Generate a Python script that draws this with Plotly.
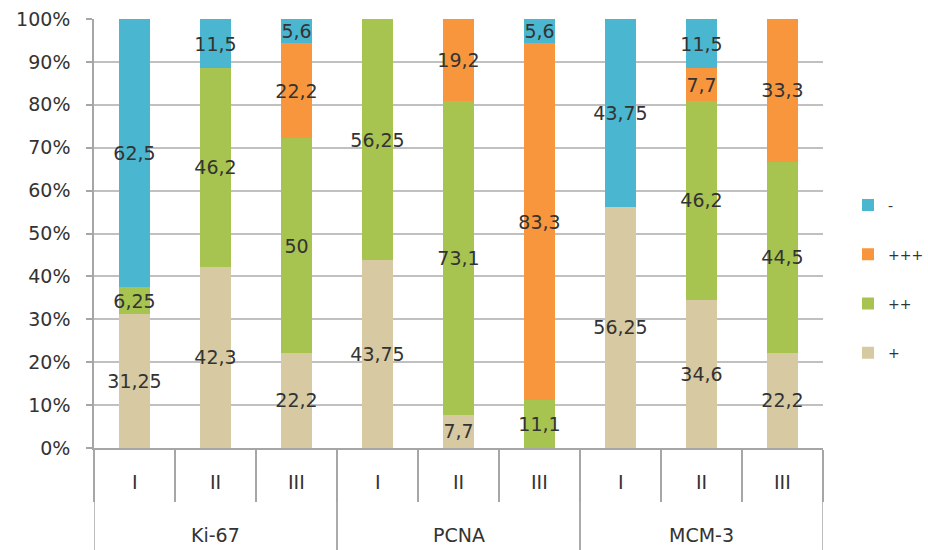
import plotly.graph_objects as go

groups = ["Ki-67"] * 3 + ["PCNA"] * 3 + ["MCM-3"] * 3
grades = ["I", "II", "III"] * 3

plus1 = [31.25, 42.3, 22.2, 43.75, 7.7, 0, 56.25, 34.6, 22.2]
plus2 = [6.25, 46.2, 50, 56.25, 73.1, 11.1, 0, 46.2, 44.5]
plus3 = [0, 0, 22.2, 0, 19.2, 83.3, 0, 7.7, 33.3]
minus = [62.5, 11.5, 5.6, 0, 0, 5.6, 43.75, 11.5, 0]

series = [
    ("+", plus1, "#D7C9A2"),
    ("++", plus2, "#A8C450"),
    ("+++", plus3, "#F7963D"),
    ("-", minus, "#4BB6CF"),
]

FONT = "DejaVu Sans, sans-serif"
FS = 19
TXT = "#333333"
LINE = "#A6A6A6"

cats = [g + " " + s for g, s in zip(groups, grades)]


def fmt(v):
    if v == 0:
        return ""
    return ("%g" % v).replace(".", ",")


fig = go.Figure()
for k, (name, vals, col) in enumerate(series):
    fig.add_trace(go.Bar(
        x=cats, y=vals, name=name,
        marker=dict(color=col, line=dict(width=0)),
        text=[fmt(v) for v in vals],
        textposition="inside", insidetextanchor="middle", textangle=0,
        constraintext="none",
        textfont=dict(family=FONT, size=FS, color=TXT),
        legendgroup=name,
        legendrank=len(series) - k,
        hoverinfo="skip",
    ))

L, R, T, B = 94, 105, 19, 102
plot_h = 550 - T - B

annotations = []
for c, s in zip(cats, grades):
    annotations.append(dict(
        x=c, y=-34 / plot_h, xref="x", yref="paper", text=s, showarrow=False,
        font=dict(family=FONT, size=FS, color=TXT), xanchor="center", yanchor="middle",
    ))
shapes = []
ugroups = []
for g in groups:
    if g not in ugroups:
        ugroups.append(g)
for g in ugroups:
    idx = [i for i, gg in enumerate(groups) if gg == g]
    mid = cats[idx[len(idx) // 2]]
    annotations.append(dict(
        x=mid, y=-87 / plot_h, xref="x", yref="paper", text=g, showarrow=False,
        font=dict(family=FONT, size=FS, color=TXT), xanchor="center", yanchor="middle",
    ))
    for edge in (idx[0] - 0.5, idx[-1] + 0.5):
        shapes.append(dict(
            type="line", xref="x", yref="paper", x0=edge, x1=edge,
            y0=0, y1=-B / plot_h, line=dict(color=LINE, width=1.5),
        ))

fig.update_layout(
    barmode="stack",
    bargap=0.62,
    width=928, height=550,
    margin=dict(l=L, r=R, t=T, b=B, autoexpand=False),
    paper_bgcolor="white", plot_bgcolor="white",
    font=dict(family=FONT, size=FS, color=TXT),
    uniformtext=dict(minsize=FS, mode="show"),
    showlegend=True,
    legend=dict(
        traceorder="grouped", x=848 / 928, xanchor="left", y=1 - 279 / 550, yanchor="middle",
        xref="container", yref="container",
        font=dict(family=FONT, size=14, color=TXT),
        tracegroupgap=28, itemwidth=30, bgcolor="rgba(0,0,0,0)",
    ),
    yaxis=dict(
        range=[0, 100], dtick=10, ticksuffix="%",
        showgrid=True, gridcolor="#C0C0C0", gridwidth=1.5,
        showline=True, linecolor=LINE, linewidth=1.5,
        ticks="outside", ticklen=6, tickcolor=LINE, tickwidth=1.5,
        ticklabelstandoff=12,
        zeroline=False, automargin=False,
        tickfont=dict(family=FONT, size=FS, color=TXT),
    ),
    xaxis=dict(
        type="category",
        showline=True, linecolor=LINE, linewidth=1.5,
        ticks="outside", tickson="boundaries", ticklen=52, tickcolor=LINE, tickwidth=1.5,
        showticklabels=False, showgrid=False, automargin=False,
        range=[-0.5, len(cats) - 0.5],
    ),
    annotations=annotations,
    shapes=shapes,
)

fig.write_html("out.html", config={"displayModeBar": False},
               post_script="document.body.style.margin='0';")
